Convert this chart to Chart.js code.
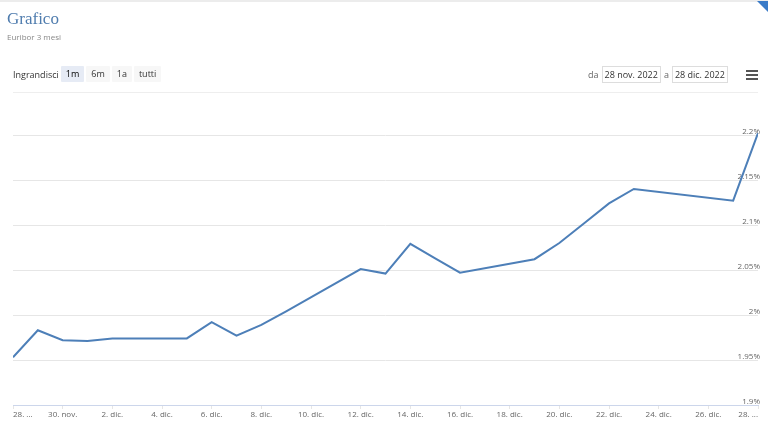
<!DOCTYPE html>
<html>
<head>
<meta charset="utf-8">
<script src="https://cdn.jsdelivr.net/npm/chart.js@4/dist/chart.umd.min.js"></script>
<style>
  html, body { margin: 0; padding: 0; background: #fff; }
  body { width: 768px; height: 428px; position: relative; overflow: hidden; font-family: "Open Sans", sans-serif; }
  #c { position: absolute; left: 0; top: 0; }
  .topline { position: absolute; left: 0; top: 0; width: 768px; height: 2px; background: #ececec; }
  .corner { position: absolute; right: 0; top: 1px; width: 0; height: 0; border-top: 11px solid #3a7bc8; border-left: 11px solid transparent; }
  .title { position: absolute; left: 7px; top: 10px; font: 17px/17px "Liberation Serif", serif; color: #4f7cae; }
  .subtitle { position: absolute; left: 7px; top: 32px; font: 8px/10px "Open Sans", sans-serif; color: #888; }
  .sel { position: absolute; left: 13px; top: 66px; height: 16px; display: flex; align-items: center; font-size: 9px; color: #333; }
  .sel .lab { margin-right: 2px; }
  .btn { height: 16px; line-height: 16px; padding: 0 5px; margin-right: 2px; background: #f7f7f7; color: #333; border-radius: 1px; }
  .btn.on { background: #e6ebf5; color: #000; }
  .range { position: absolute; top: 66px; left: 588px; height: 17px; display: flex; align-items: center; font-size: 9px; color: #666; }
  .box { height: 15px; line-height: 15px; border: 1px solid #ddd; padding: 0 2px; color: #333; margin: 0 3px; }
  .menu { position: absolute; left: 746px; top: 70px; width: 12px; }
  .menu div { height: 2px; background: #555; margin-bottom: 2px; }
  .sep { position: absolute; left: 13px; top: 92px; width: 745px; height: 1px; background: #eeeeee; }
</style>
</head>
<body>
<canvas id="c" width="768" height="428"></canvas>
<div class="topline"></div>
<div class="corner"></div>
<div class="title">Grafico</div>
<div class="subtitle">Euribor 3 mesi</div>
<div class="sel"><span class="lab">Ingrandisci</span><span class="btn on">1m</span><span class="btn">6m</span><span class="btn">1a</span><span class="btn">tutti</span></div>
<div class="range">da<span class="box">28 nov. 2022</span>a<span class="box">28 dic. 2022</span></div>
<div class="menu"><div></div><div></div><div></div></div>
<div class="sep"></div>
<script>
// ---- data ----
const dates = ["2022-11-28","2022-11-29","2022-11-30","2022-12-01","2022-12-02",
  "2022-12-05","2022-12-06","2022-12-07","2022-12-08","2022-12-09",
  "2022-12-12","2022-12-13","2022-12-14","2022-12-15","2022-12-16",
  "2022-12-19","2022-12-20","2022-12-21","2022-12-22","2022-12-23",
  "2022-12-27","2022-12-28"];
const euribor3m = [1.953,1.983,1.972,1.971,1.974,
  1.974,1.992,1.977,1.989,2.004,
  2.051,2.046,2.079,2.063,2.047,
  2.062,2.080,2.102,2.124,2.140,
  2.127,2.202];
const xTickLabels = ["28. ...","30. nov.","2. dic.","4. dic.","6. dic.","8. dic.","10. dic.",
  "12. dic.","14. dic.","16. dic.","18. dic.","20. dic.","22. dic.","24. dic.","26. dic.","28. ..."];
const yTickValues = [1.9,1.95,2.0,2.05,2.1,2.15,2.2];
const yTickLabels = ["1.9%","1.95%","2%","2.05%","2.1%","2.15%","2.2%"];

const DAY = 86400000;
const t0 = Date.parse(dates[0] + "T00:00:00Z");
const points = dates.map((d, i) => ({ x: (Date.parse(d + "T00:00:00Z") - t0) / DAY, y: euribor3m[i] }));
const lastDay = (Date.parse(dates[dates.length - 1] + "T00:00:00Z") - t0) / DAY;

new Chart(document.getElementById("c"), {
  type: "line",
  data: { datasets: [{
    label: "Euribor 3 mesi",
    data: points,
    borderColor: "#4d7fb8",
    borderWidth: 2,
    pointRadius: 0,
    tension: 0,
    fill: false
  }]},
  options: {
    responsive: false,
    animation: false,
    devicePixelRatio: 1,
    layout: { padding: { left: 13, right: 10, top: 117, bottom: 0 } },
    plugins: { legend: { display: false }, tooltip: { enabled: false } },
    scales: {
      x: {
        type: "linear",
        position: "bottom",
        min: 0,
        max: lastDay,
        afterBuildTicks: (s) => { s.ticks = xTickLabels.map((_, i) => ({ value: i * 2 })); },
        afterFit: (s) => { s.height = 23; },
        ticks: {
          autoSkip: false,
          maxRotation: 0,
          align: "inner",
          padding: 1,
          color: "#666",
          font: { family: "Open Sans", size: 8 },
          callback: (v, i) => xTickLabels[i]
        },
        grid: { drawOnChartArea: false, drawTicks: true, tickLength: 4, color: "#e6e6e6" },
        border: { display: true, color: "#ccd6eb", width: 1 }
      },
      y: {
        type: "linear",
        position: "right",
        min: 1.9,
        max: 2.22,
        afterBuildTicks: (s) => { s.ticks = yTickValues.map(v => ({ value: v })); },
        afterFit: (s) => { s.width = 0; },
        ticks: {
          mirror: true,
          padding: 2,
          labelOffset: -3,
          color: "#666",
          font: { family: "Open Sans", size: 8 },
          callback: (v, i) => yTickLabels[i]
        },
        grid: { color: "#e6e6e6", drawTicks: false },
        border: { display: false }
      }
    }
  }
});
</script>
</body>
</html>
